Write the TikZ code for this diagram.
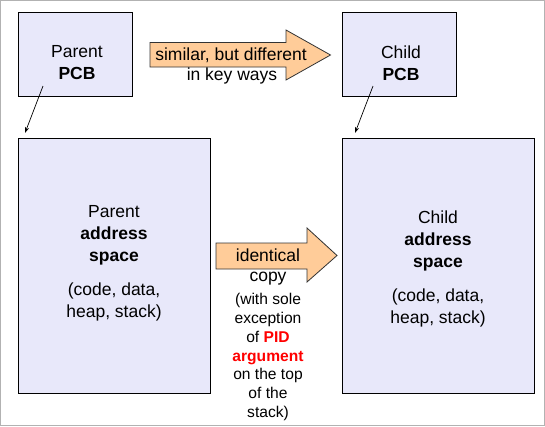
\documentclass[tikz,border=0pt]{standalone}
\usepackage{fontspec}
\setmainfont{Liberation Sans}
\usetikzlibrary{arrows.meta}
\definecolor{boxfill}{HTML}{E8E8FA}
\definecolor{arrowfill}{HTML}{FFCC99}
\definecolor{pidred}{HTML}{FF0000}
\tikzset{
  box/.style={draw=black, line width=1pt, fill=boxfill, inner sep=0pt},
  bigarrow/.style={draw=black!80, line width=0.8pt, fill=arrowfill},
  txt/.style={align=center, inner sep=0pt, font=\fontsize{17.5}{22}\selectfont},
  smalltxt/.style={align=center, inner sep=0pt, font=\fontsize{15.6}{18.8}\selectfont},
  ptr/.style={-{Stealth[length=6pt,width=4pt]}, line width=0.7pt}
}
\begin{document}
\begin{tikzpicture}[x=1pt,y=-1pt]
\useasboundingbox (0,0) rectangle (545,426);
\draw[draw=black!30, line width=1pt] (0.5,0.5) rectangle (544.5,425.5);
% boxes
\node[box, minimum width=114pt, minimum height=84pt] (ppcb) at (75,54) {};
\node[box, minimum width=114pt, minimum height=84pt] (cpcb) at (399,54) {};
\node[box, minimum width=192pt, minimum height=255pt] (pas) at (114,265.5) {};
\node[box, minimum width=192pt, minimum height=255pt] (cas) at (438,265.5) {};
% box texts
\node[txt] (ppcbt) at (77,63) {Parent\\\textbf{PCB}};
\node[txt] (cpcbt) at (401,63) {Child\\\textbf{PCB}};
\node[txt] (past) at (114,263) {Parent\\\textbf{address}\\\textbf{space}\\[12pt](code, data,\\heap, stack)};
\node[txt] (cast) at (438,268.5) {Child\\\textbf{address}\\\textbf{space}\\[12pt](code, data,\\heap, stack)};
% big arrows
\draw[bigarrow] (150,42.5) -- (286,42.5) -- (286,30) -- (330.5,55) -- (286,80) -- (286,67) -- (150,67) -- cycle;
\draw[bigarrow] (216,243) -- (307,243) -- (307,228) -- (337,255.5) -- (307,282) -- (307,269) -- (216,269) -- cycle;
\node[txt] (sim) at (231,55) {similar, but different};
\node[txt] (key) at (232,76) {in key ways};
\node[txt] (ident) at (268,255.5) {identical};
\node[txt] (copy) at (268,279) {copy};
\node[smalltxt] (rest) at (268,357) {(with sole\\exception\\of \textbf{\textcolor{pidred}{PID}}\\\textbf{\textcolor{pidred}{argument}}\\on the top\\of the\\stack)};
% pointers
\coordinate (p1) at (43,86);
\coordinate (p2) at (25,133);
\coordinate (c1) at (373,86);
\coordinate (c2) at (355,133);
\draw[ptr] (p1) -- (p2);
\draw[ptr] (c1) -- (c2);
\end{tikzpicture}
\end{document}
